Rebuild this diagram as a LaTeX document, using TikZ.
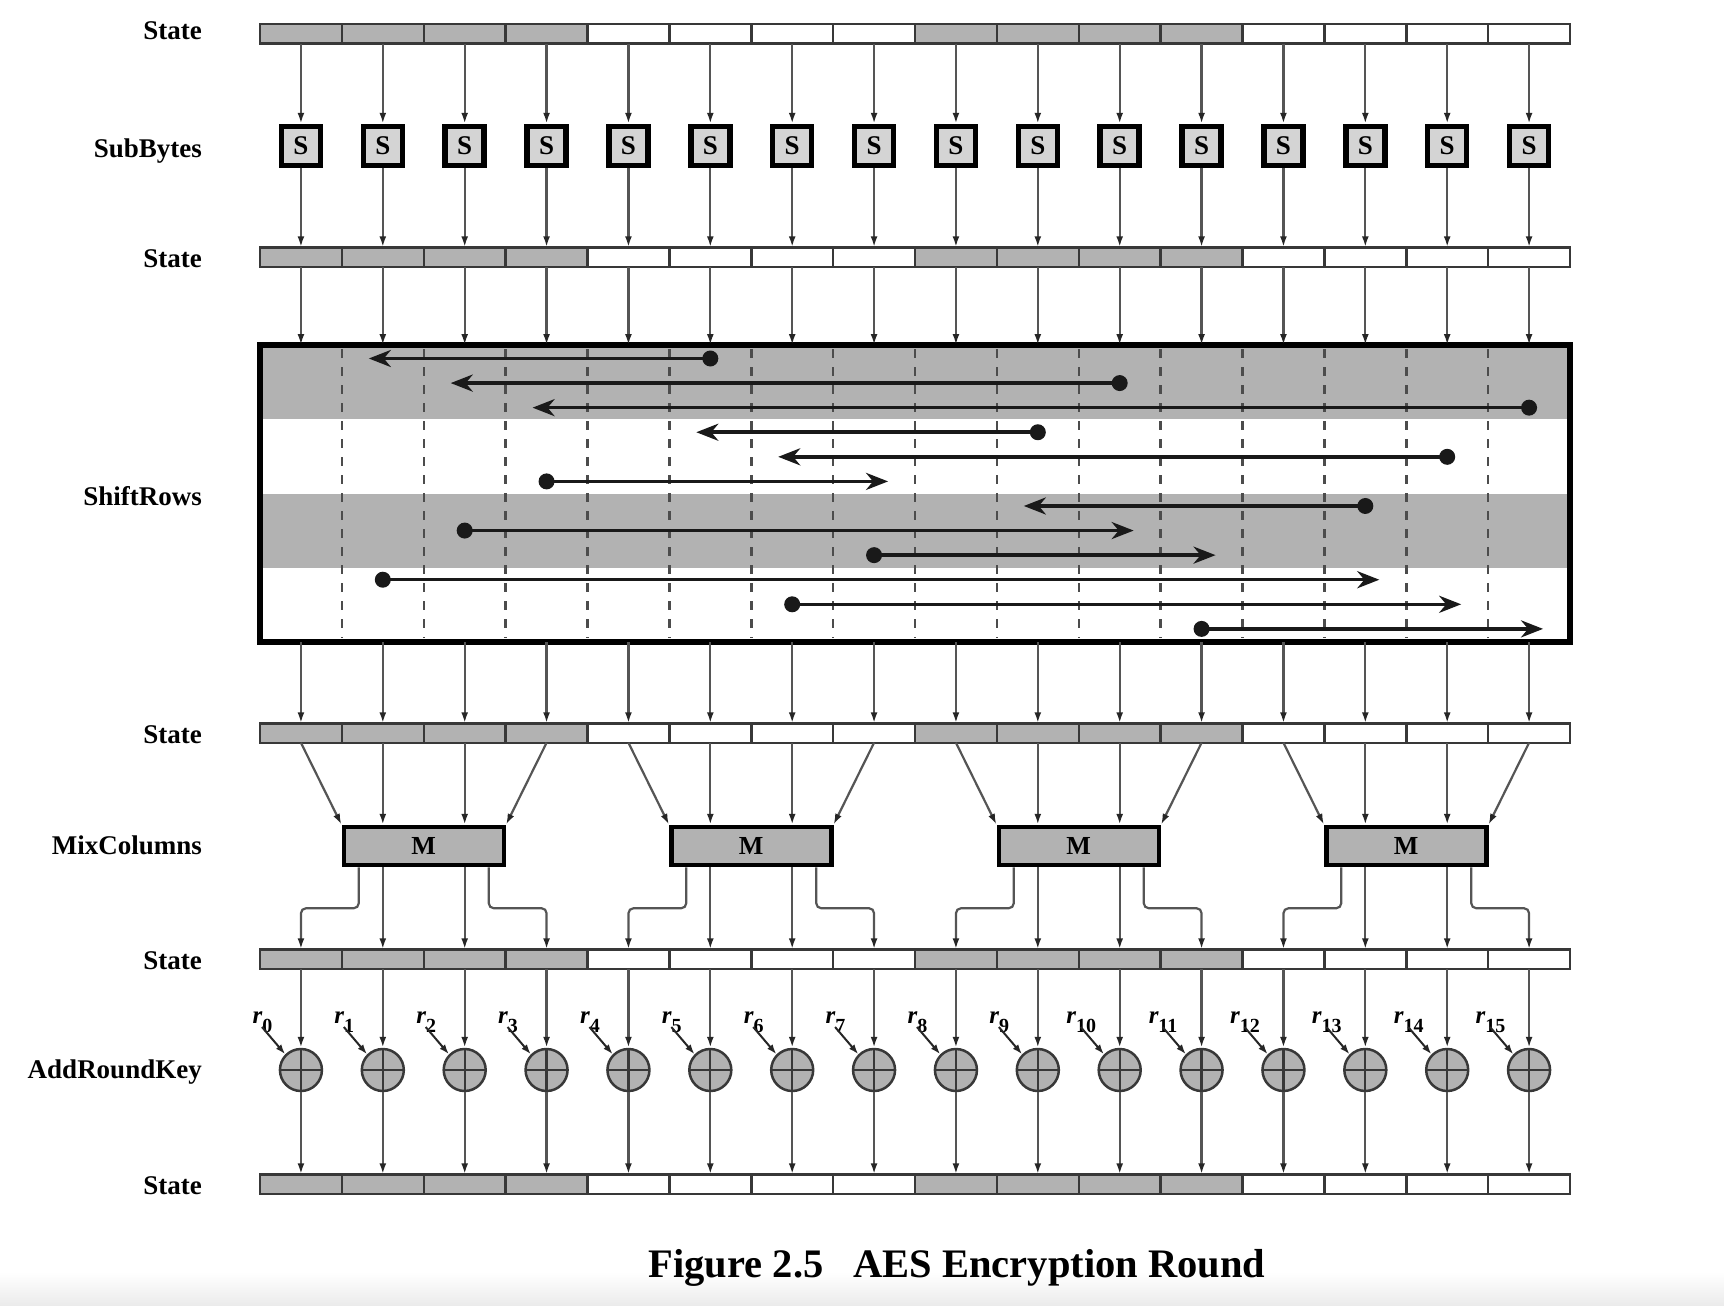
\documentclass[tikz,border=0pt]{standalone}
\usepackage{fontspec}
\setmainfont{Liberation Serif}
\usetikzlibrary{arrows.meta,calc}
\definecolor{cellgray}{HTML}{B2B2B2}
\definecolor{sgray}{HTML}{D4D4D4}
\definecolor{linegray}{HTML}{555555}
\definecolor{edgegray}{HTML}{383838}
\tikzset{
  cellbase/.style={draw=edgegray, line width=2.5pt, minimum width=81.875pt, minimum height=19.5pt, inner sep=0pt, outer sep=0pt},
  cell0/.style={cellbase, fill=cellgray},
  cell1/.style={cellbase, fill=white},
  flow/.style={draw=linegray, line width=2.2pt, -{Latex[length=11pt,width=7pt,color=black!85]}},
  sbox/.style={draw=black, line width=5.5pt, fill=sgray, minimum size=39pt, inner sep=0pt, font=\fontsize{27}{27}\selectfont\bfseries},
  mbox/.style={draw=black, line width=4.5pt, fill=cellgray, minimum width=160pt, minimum height=38pt, inner sep=0pt, font=\fontsize{26}{26}\selectfont\bfseries},
  xorn/.style={circle, draw=edgegray, line width=2.5pt, fill=cellgray, minimum size=42pt, inner sep=0pt,
    path picture={\draw[edgegray, line width=2.2pt] (path picture bounding box.north) -- (path picture bounding box.south)
      (path picture bounding box.west) -- (path picture bounding box.east);}},
  lab/.style={anchor=east, font=\fontsize{27}{30}\selectfont\bfseries, inner sep=0pt},
  rlab/.style={anchor=base, font=\fontsize{25}{27}\selectfont\bfseries\itshape, inner sep=0pt},
  keyarrow/.style={draw=black!85, line width=2pt, -{Latex[length=10pt,width=7pt]}},
  dashline/.style={draw=black!70, line width=2.5pt, dash pattern=on 9pt off 9pt},
  shiftarrow/.style={draw=black!90, line width=3.5pt, -{Stealth[length=22pt,width=17pt,inset=7pt]}},
  dotn/.style={circle, fill=black!90, minimum size=16pt, inner sep=0pt},
}
\newcommand\staterow[2]{%
  \foreach \i in {0,...,15}{%
    \pgfmathtruncatemacro\cgrp{mod(int(\i/4),2)}%
    \pgfmathsetmacro\cxx{300.94+81.875*\i}%
    \node[cell\cgrp] (#1\i) at (\cxx,#2) {};%
  }%
}
\begin{document}
\begin{tikzpicture}[x=1pt,y=-1pt]
\useasboundingbox (0,0) rectangle (1724,1306);
\shade[top color=white, bottom color=black!8] (0,1272) rectangle (1724,1306);

% labels
\node[lab] (l1) at (202,31) {State};
\node[lab] (l2) at (202,151) {SubBytes};
\node[lab] (l3) at (202,258.5) {State};
\node[lab] (l4) at (202,496) {ShiftRows};
\node[lab] (l5) at (202,734.5) {State};
\node[lab] (l6) at (202,845) {MixColumns};
\node[lab] (l7) at (202,960.5) {State};
\node[lab] (l8) at (202,1072) {AddRoundKey};
\node[lab] (l9) at (202,1185.5) {State};

% state rows
\staterow{sa}{34}
\staterow{sb}{257}
\staterow{sc}{733}
\staterow{sd}{959}
\staterow{se}{1184}

% SubBytes
\foreach \i in {0,...,15}{
  \pgfmathsetmacro\cxx{300.94+81.875*\i}
  \node[sbox] (S\i) at (\cxx,146) {S};
  \draw[flow] (sa\i.south) -- (S\i.north);
  \draw[flow] (S\i.south) -- (sb\i.north);
}

% ShiftRows
\node[minimum width=1310pt, minimum height=297pt, inner sep=0pt, outer sep=0pt] (sr) at (915,493.5) {};
\fill[cellgray] (sr.north west) rectangle ($(sr.north east)+(0,74.25)$);
\fill[cellgray] ($(sr.west)$) rectangle ($(sr.east)+(0,74.25)$);
\foreach \k in {1,...,15}{
  \draw[dashline] ($(sr.north west)+(81.875*\k,4)$) -- ($(sr.south west)+(81.875*\k,-4)$);
}
\draw[line width=6pt] (sr.north west) rectangle (sr.south east);
\foreach \f/\t [count=\k from 0] in {5/1,10/2,15/3,9/5,14/6,3/7,13/9,2/10,7/11,1/13,6/14,11/15}{
  \pgfmathsetmacro\yy{358.5+24.58*\k}
  \pgfmathsetmacro\xf{300.94+81.875*\f}
  \pgfmathsetmacro\xt{300.94+81.875*\t+(\t>\f ? 14 : -14)}
  \node[dotn] (d\k) at (\xf,\yy) {};
  \coordinate (t\k) at (\xt,\yy);
  \draw[shiftarrow] (d\k.center) -- (t\k);
}
\foreach \i in {0,...,15}{
  \draw[flow] (sb\i.south) -- (sb\i.south |- sr.north);
  \draw[flow] (sc\i.north |- sr.south) -- (sc\i.north);
}

% MixColumns
\foreach \g in {0,...,3}{
  \pgfmathsetmacro\mx{423.75+327.5*\g}
  \node[mbox] (M\g) at (\mx,846) {M};
  \pgfmathtruncatemacro\ca{4*\g}
  \pgfmathtruncatemacro\cb{4*\g+1}
  \pgfmathtruncatemacro\cc{4*\g+2}
  \pgfmathtruncatemacro\cd{4*\g+3}
  \draw[flow] (sc\ca.south) -- (M\g.north west);
  \draw[flow] (sc\cb.south) -- (sc\cb.south |- M\g.north);
  \draw[flow] (sc\cc.south) -- (sc\cc.south |- M\g.north);
  \draw[flow] (sc\cd.south) -- (M\g.north east);
  \draw[flow, rounded corners=5pt] ($(M\g.south)+(-65,0)$) |- ($(sd\ca.north)+(0,-41)$) -- (sd\ca.north);
  \draw[flow] (sd\cb.north |- M\g.south) -- (sd\cb.north);
  \draw[flow] (sd\cc.north |- M\g.south) -- (sd\cc.north);
  \draw[flow, rounded corners=5pt] ($(M\g.south)+(65,0)$) |- ($(sd\cd.north)+(0,-41)$) -- (sd\cd.north);
}

% AddRoundKey
\foreach \i in {0,...,15}{
  \pgfmathsetmacro\cxx{300.94+81.875*\i}
  \node[xorn] (X\i) at (\cxx,1070) {};
  \draw[flow] (sd\i.south) -- (X\i.north);
  \draw[flow] (X\i.south) -- (se\i.north);
  \node[rlab] (r\i) at ({\cxx-38.5},1023) {r\raisebox{-9pt}{\fontsize{20}{20}\selectfont\upshape\i}};
  \coordinate (ra\i) at ({\cxx-39},1027);
  \draw[keyarrow] (ra\i) -- (X\i.north west);
}

% caption
\node[font=\fontsize{40.5}{44}\selectfont\bfseries, inner sep=0pt] (cap) at (957,1268) {Figure 2.5\hspace{30pt}AES Encryption Round};
\end{tikzpicture}
\end{document}
